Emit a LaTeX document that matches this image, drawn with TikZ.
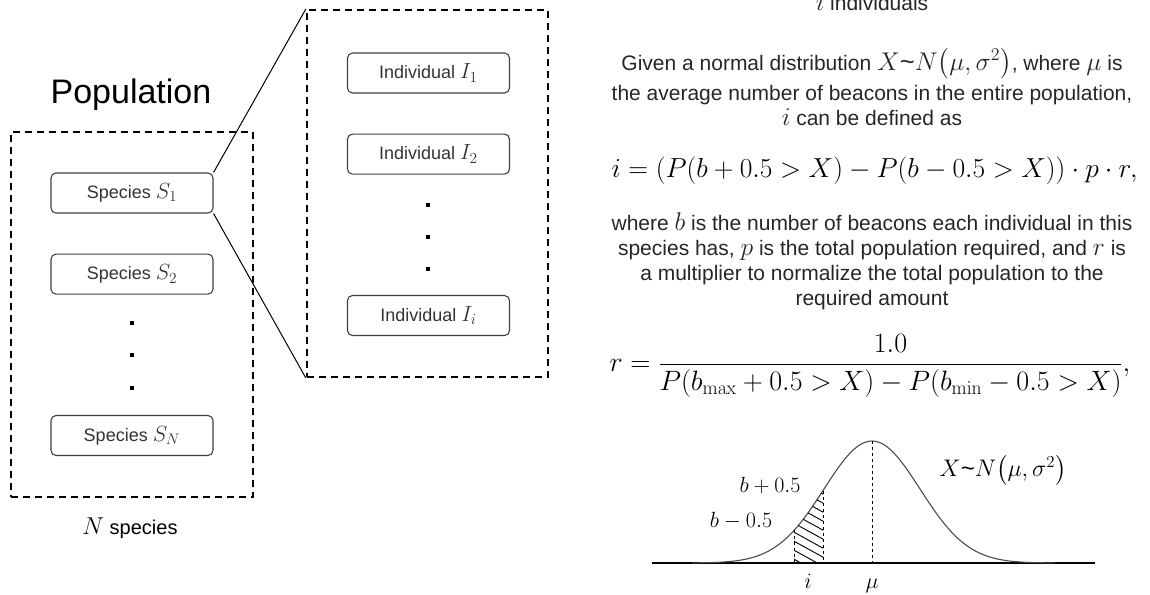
\RequirePackage{fix-cm}
\documentclass[tikz,border=0pt]{standalone}
\usepackage{amsmath}
\usepackage{graphicx}
\usepackage[no-math]{fontspec}
\setmainfont{Liberation Sans}
\usepackage{tikz}
\usetikzlibrary{positioning}

\newcommand{\mathsz}[1]{\scalebox{1.22}{$#1$}}

\begin{document}
\begin{tikzpicture}[
    x=1pt, y=-1pt,
    group/.style={draw, line width=2.2pt, dash pattern=on 7pt off 5pt, minimum width=242pt, minimum height=365pt, inner sep=0pt},
    species/.style={rectangle, draw=black!75, line width=1.1pt, rounded corners=5pt, minimum width=162pt, minimum height=40pt, font=\fontsize{18}{21}\selectfont, text=black!80, inner sep=0pt},
    dot/.style={rectangle, fill=black, minimum size=3.5pt, inner sep=0pt},
    link/.style={line width=1pt},
    body/.style={font=\fontsize{21}{25}\selectfont, align=center, text=black!85},
    bigmath/.style={font=\fontsize{27.5}{32}\selectfont},
    plotmath/.style={font=\fontsize{22}{26}\selectfont}
]
\useasboundingbox (0,0) rectangle (1150,594);

% Population side
\node[anchor=base, font=\fontsize{34}{38}\selectfont] (poptitle) at (131,103) {Population};
\node[group] (popbox) at (132,314.5) {};
\node[species] (s1) at (132,193) {Species \mathsz{S_1}};
\node[species, below=40pt of s1] (s2) {Species \mathsz{S_2}};
\node[species] (sN) at (132,435.5) {Species \mathsz{S_N}};
\node[dot] (sd1) at (132,323) {};
\node[dot] (sd2) at (132,355) {};
\node[dot] (sd3) at (132,388) {};
\node[anchor=base, font=\fontsize{20}{24}\selectfont] (nspecies) at (130,534) {\mathsz{N} species};

% Individuals of one species
\node[group, minimum width=241pt, minimum height=367pt] (indbox) at (427.5,193.5) {};
\node[species] (i1) at (428.5,73) {Individual \mathsz{I_1}};
\node[species, below=40pt of i1] (i2) {Individual \mathsz{I_2}};
\node[species] (ii) at (428.5,315.5) {Individual \mathsz{I_i}};
\node[dot] (id1) at (428,205) {};
\node[dot] (id2) at (428,237) {};
\node[dot] (id3) at (428,269) {};

\draw[link] (s1.north east) -- (indbox.north west);
\draw[link] (s1.south east) -- (indbox.south west);

% Text on the right
\node[body, anchor=base] (indcount) at (872,11) {\mathsz{i} individuals};
\node[body, anchor=base] (given) at (872,125) {Given a normal distribution \mathsz{X\text{\textasciitilde}N\big(\mu,\sigma^2\big)}, where \mathsz{\mu} is\\[5pt]
the average number of beacons in the entire population,\\
\mathsz{i} can be defined as};
\node[bigmath, anchor=base west] (eqi) at (608,177) {$i=(P(b+0.5>X)-P(b-0.5>X))\cdot p\cdot r,$};
\node[body, anchor=base] (where) at (872,305) {where \mathsz{b} is the number of beacons each individual in this\\
species has, \mathsz{p} is the total population required, and \mathsz{r} is\\
a multiplier to normalize the total population to the\\
required amount};
\node[bigmath, font=\fontsize{28}{32}\selectfont, anchor=west] (eqr) at (606,366) {$\displaystyle r=\frac{1.0}{P(b_{\max}+0.5>X)-P(b_{\min}-0.5>X)},$};

% Normal curve
\draw[line width=1.1pt] (652,563) -- (1095,563);
\draw[line width=1.1pt, black!70] plot[domain=692:1055, samples=120, smooth] (\x,{563-122*exp(-0.5*((\x-872)/48)^2)});
\begin{scope}
  \clip (794,563) -- plot[domain=794:823, samples=20] (\x,{563-122*exp(-0.5*((\x-872)/48)^2)}) -- (823,563) -- cycle;
  \foreach \k in {420,429,...,600}
    \draw[line width=0.9pt] (770,\k) -- ++(60,33);
\end{scope}
\draw[dashed, line width=0.9pt] (794,{563-122*exp(-0.5*((794-872)/48)^2)}) -- (794,563);
\draw[dashed, line width=0.9pt] (823,{563-122*exp(-0.5*((823-872)/48)^2)}) -- (823,563);
\draw[dashed, line width=0.9pt] (872,441) -- (872,563);
\node[plotmath, anchor=base] (bplus) at (770,492) {$b+0.5$};
\node[plotmath, anchor=base] (bminus) at (741,527) {$b-0.5$};
\node[plotmath, font=\fontsize{24}{28}\selectfont, anchor=base] (dist) at (1003,476) {$X\text{\textasciitilde}N\big(\mu,\sigma^2\big)$};
\node[plotmath, anchor=base] (ilabel) at (808,588) {$i$};
\node[plotmath, anchor=base] (mulabel) at (872,588) {$\mu$};

\end{tikzpicture}
\end{document}
